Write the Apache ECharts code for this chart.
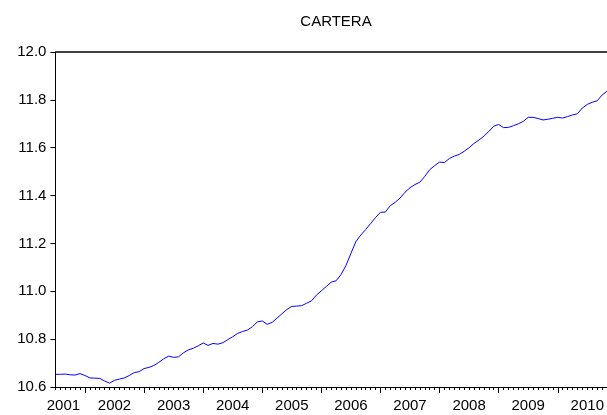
<!DOCTYPE html>
<html>
<head>
<meta charset="utf-8">
<script src="https://cdn.jsdelivr.net/npm/echarts@6/dist/echarts.min.js"></script>
<style>
  html, body { margin: 0; padding: 0; background: #fff; }
  #chart { width: 607px; height: 415px; }
</style>
</head>
<body>
<div id="chart"></div>
<script>
// monthly observations, 2001M07 .. 2010M11
var startYear = 2001
var startMonth = 7
var cartera = [
  10.653, 10.653, 10.654, 10.651, 10.650, 10.656, 10.648, 10.638, 10.637, 10.636,
  10.625, 10.616, 10.628, 10.633, 10.638, 10.648, 10.660, 10.664, 10.677, 10.682,
  10.690, 10.703, 10.718, 10.729, 10.724, 10.726, 10.743, 10.755, 10.762, 10.772,
  10.784, 10.774, 10.782, 10.779, 10.785, 10.798, 10.810, 10.824, 10.832, 10.838,
  10.852, 10.872, 10.876, 10.862, 10.870, 10.888, 10.906, 10.924, 10.937, 10.938,
  10.940, 10.950, 10.960, 10.984, 11.002, 11.020, 11.038, 11.044, 11.070, 11.108,
  11.158, 11.207, 11.235, 11.258, 11.283, 11.308, 11.330, 11.331, 11.358, 11.372,
  11.390, 11.414, 11.433, 11.446, 11.456, 11.480, 11.508, 11.525, 11.540, 11.538,
  11.555, 11.565, 11.572, 11.585, 11.600, 11.618, 11.632, 11.648, 11.668, 11.690,
  11.697, 11.684, 11.685, 11.692, 11.700, 11.710, 11.727, 11.727, 11.722, 11.716,
  11.719, 11.723, 11.727, 11.724, 11.730, 11.737, 11.742, 11.766, 11.781, 11.790,
  11.796, 11.820, 11.836
]
var yTicks = [10.6, 10.8, 11.0, 11.2, 11.4, 11.6, 11.8, 12.0]

var months = []
for (var i = 0; i < cartera.length; i++) {
  var m = startMonth - 1 + i
  var y = startYear + Math.floor(m / 12)
  months.push(y + 'M' + ((m % 12) + 1))
}
function monthOf(label) { return parseInt(label.split('M')[1]) }
function yearOf(label) { return label.split('M')[0] }

var font = 'Arial, Liberation Sans'
var chart = echarts.init(document.getElementById('chart'))
chart.setOption({
  animation: false,
  title: {
    text: 'CARTERA',
    left: 331,
    textAlign: 'center',
    top: 9,
    textStyle: { fontFamily: font, fontSize: 15, fontWeight: 'normal', color: '#000' }
  },
  grid: { left: 55.4, top: 52, width: 552.2, height: 335 },
  xAxis: [
    {
      type: 'category',
      data: months,
      boundaryGap: false,
      axisLine: { lineStyle: { color: '#000', width: 1 } },
      axisTick: {
        show: true,
        length: 6,
        interval: function (idx, val) { return monthOf(val) === 1 },
        lineStyle: { color: '#000' }
      },
      axisLabel: {
        interval: function (idx, val) { return monthOf(val) === 7 },
        margin: 11,
        fontFamily: font,
        fontSize: 15,
        color: '#000',
        formatter: function (val, idx) {
          return idx === 0 ? '{first|' + yearOf(val) + '}' : yearOf(val)
        },
        rich: { first: { padding: [0, 0, 0, 16], fontFamily: font, fontSize: 15, color: '#000' } }
      },
      splitLine: { show: false }
    },
    {
      // monthly minor ticks along the bottom axis
      type: 'category',
      data: months,
      boundaryGap: false,
      position: 'bottom',
      axisLine: { show: false },
      axisTick: { show: true, length: 3, interval: 0, lineStyle: { color: '#000' } },
      axisLabel: { show: false }
    }
  ],
  yAxis: {
    type: 'value',
    min: yTicks[0],
    max: yTicks[yTicks.length - 1],
    interval: 0.2,
    axisLine: { show: true, lineStyle: { color: '#000' } },
    axisTick: { show: true, length: 5, lineStyle: { color: '#000' } },
    axisLabel: {
      margin: 9,
      fontFamily: font,
      fontSize: 15,
      color: '#000',
      formatter: function (v) { return v.toFixed(1) }
    },
    splitLine: { show: false }
  },
  series: [
    {
      name: 'CARTERA',
      type: 'line',
      data: cartera,
      showSymbol: false,
      lineStyle: { color: '#0000ff', width: 1 },
      markLine: {
        silent: true,
        symbol: 'none',
        label: { show: false },
        lineStyle: { color: '#000', type: 'solid', width: 1.5 },
        data: [{ yAxis: 12.0 }]
      }
    },
    { type: 'line', xAxisIndex: 1, data: [], silent: true }
  ]
})
</script>
</body>
</html>
